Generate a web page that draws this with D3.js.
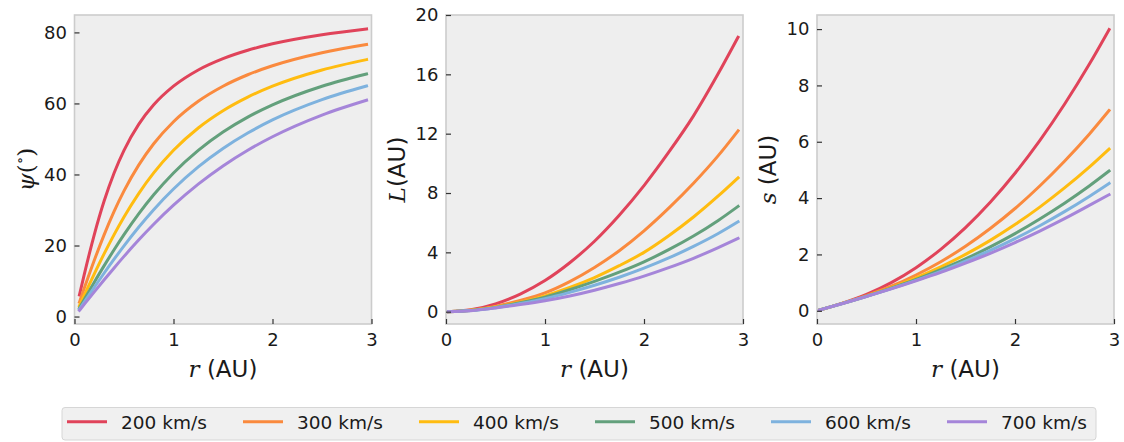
<!DOCTYPE html>
<html>
<head>
<meta charset="utf-8">
<script src="https://cdn.jsdelivr.net/npm/d3@7"></script>
<style>
  html, body { margin: 0; padding: 0; background: #ffffff; }
  svg { display: block; }
  text { font-family: "DejaVu Sans", sans-serif; fill: #1a1a1a; }
  .math { font-family: "DejaVu Serif", "Liberation Serif", serif; font-style: italic; }
</style>
</head>
<body>
<svg id="chart" width="1124" height="442"></svg>
<script>
// Solar wind speeds and their line colours
const speeds = ["200 km/s", "300 km/s", "400 km/s", "500 km/s", "600 km/s", "700 km/s"];
const colors = ["#e0435a", "#fa8a3e", "#ffbc10", "#63a07c", "#7eb2de", "#a585d9"];

// Heliocentric distance samples (AU)
const rPsi  = [0.05, 0.1, 0.2, 0.3, 0.4, 0.5, 0.65, 0.8, 1.0, 1.25, 1.5, 1.75, 2.0, 2.5, 2.95];
const rDist = [0.02, 0.25, 0.5, 0.75, 1.0, 1.25, 1.5, 1.75, 2.0, 2.25, 2.5, 2.75, 2.95];

// Spiral angle psi (degrees) on rPsi
const psi200 = [6.08, 12.02, 23.07, 32.58, 40.43, 46.8, 54.16, 59.6, 64.85, 69.42, 72.62, 74.98, 76.79, 79.35, 80.96];
const psi300 = [4.06, 8.08, 15.85, 23.07, 29.6, 35.37, 42.7, 48.64, 54.84, 60.61, 64.85, 68.08, 70.6, 74.27, 76.57];
const psi400 = [3.05, 6.08, 12.02, 17.72, 23.07, 28.04, 34.69, 40.43, 46.8, 53.09, 57.95, 61.78, 64.85, 69.42, 72.33];
const psi500 = [2.44, 4.87, 9.67, 14.34, 18.82, 23.07, 28.98, 34.28, 40.43, 46.8, 51.96, 56.15, 59.6, 64.85, 68.3];
const psi600 = [2.07, 4.14, 8.24, 12.26, 16.15, 19.92, 25.22, 30.1, 35.9, 42.12, 47.32, 51.67, 55.35, 61.06, 64.9];
const psi700 = [1.74, 3.49, 6.94, 10.35, 13.69, 16.94, 21.6, 25.98, 31.34, 37.28, 42.41, 46.83, 50.62, 56.72, 60.9];

// L (AU) on rDist
const L200 = [0.001, 0.13, 0.53, 1.19, 2.1, 3.3, 4.75, 6.5, 8.5, 10.75, 13.2, 16.05, 18.5];
const L300 = [0.001, 0.1, 0.36, 0.76, 1.27, 2.03, 2.98, 4.11, 5.45, 6.98, 8.66, 10.52, 12.19];
const L400 = [0.001, 0.09, 0.31, 0.64, 1.07, 1.63, 2.3, 3.1, 4.0, 5.12, 6.38, 7.8, 9.02];
const L500 = [0.001, 0.08, 0.29, 0.6, 0.98, 1.48, 2.04, 2.66, 3.36, 4.18, 5.1, 6.15, 7.1];
const L600 = [0.001, 0.075, 0.27, 0.55, 0.88, 1.3, 1.78, 2.32, 2.93, 3.62, 4.4, 5.27, 6.06];
const L700 = [0.001, 0.07, 0.25, 0.48, 0.74, 1.06, 1.45, 1.9, 2.4, 2.97, 3.6, 4.32, 4.94];

// Path length s (AU) on rDist
const s200 = [0.02, 0.26, 0.58, 1.0, 1.53, 2.18, 2.95, 3.85, 4.88, 6.04, 7.33, 8.75, 9.98];
const s300 = [0.02, 0.255, 0.54, 0.87, 1.27, 1.74, 2.29, 2.92, 3.63, 4.43, 5.31, 6.27, 7.11];
const s400 = [0.02, 0.253, 0.52, 0.82, 1.17, 1.56, 2.0, 2.5, 3.06, 3.68, 4.36, 5.1, 5.74];
const s500 = [0.02, 0.252, 0.515, 0.8, 1.11, 1.46, 1.84, 2.27, 2.74, 3.26, 3.82, 4.43, 4.96];
const s600 = [0.02, 0.251, 0.511, 0.785, 1.08, 1.4, 1.76, 2.14, 2.56, 3.02, 3.52, 4.06, 4.52];
const s700 = [0.02, 0.251, 0.508, 0.775, 1.06, 1.36, 1.69, 2.04, 2.42, 2.83, 3.27, 3.74, 4.12];

// Tick values
const xTicks   = [0, 1, 2, 3];
const psiTicks = [0, 20, 40, 60, 80];
const LTicks   = [0, 4, 8, 12, 16, 20];
const sTicks   = [0, 2, 4, 6, 8, 10];

const panels = [
  { left: 74.5, r: rPsi,  series: [psi200, psi300, psi400, psi500, psi600, psi700], yDomain: [-2.1, 84.9], yTicks: psiTicks, ylabel: "psi" },
  { left: 446,  r: rDist, series: [L200, L300, L400, L500, L600, L700],             yDomain: [-0.83, 20],  yTicks: LTicks,   ylabel: "L" },
  { left: 817,  r: rDist, series: [s200, s300, s400, s500, s600, s700],             yDomain: [-0.47, 10.5], yTicks: sTicks,  ylabel: "s" }
];

const plotTop = 15, plotBottom = 324, plotW = 297;
const svg = d3.select("#chart");

panels.forEach(p => {
  const x = d3.scaleLinear().domain([0, 3]).range([p.left, p.left + plotW]);
  const y = d3.scaleLinear().domain(p.yDomain).range([plotBottom, plotTop]);
  const g = svg.append("g");

  // plot area
  g.append("rect")
    .attr("x", p.left).attr("y", plotTop)
    .attr("width", plotW).attr("height", plotBottom - plotTop)
    .attr("fill", "#eeeeee");

  const clipId = "clip-" + p.ylabel;
  svg.append("clipPath").attr("id", clipId).append("rect")
    .attr("x", p.left).attr("y", plotTop).attr("width", plotW).attr("height", plotBottom - plotTop);

  // curves
  const line = d3.line()
    .x(d => x(d[0])).y(d => y(d[1]))
    .curve(d3.curveMonotoneX);
  const lg = g.append("g").attr("clip-path", `url(#${clipId})`);
  p.series.forEach((vals, i) => {
    lg.append("path")
      .datum(p.r.map((rv, j) => [rv, vals[j]]))
      .attr("d", line)
      .attr("fill", "none")
      .attr("stroke", colors[i])
      .attr("stroke-width", 3)
      .attr("stroke-linecap", "square")
      .attr("stroke-linejoin", "round");
  });

  // frame
  g.append("rect")
    .attr("x", p.left).attr("y", plotTop)
    .attr("width", plotW).attr("height", plotBottom - plotTop)
    .attr("fill", "none").attr("stroke", "#cccccc").attr("stroke-width", 1.6);

  // axes with inward ticks
  const ax = g.append("g").attr("transform", `translate(0,${plotBottom})`)
    .call(d3.axisBottom(x).tickValues(xTicks).tickSize(-5).tickPadding(9).tickFormat(d3.format("d")));
  const ay = g.append("g").attr("transform", `translate(${p.left},0)`)
    .call(d3.axisLeft(y).tickValues(p.yTicks).tickSize(-5).tickPadding(7.5).tickFormat(d3.format("d")));
  [ax, ay].forEach(a => {
    a.select(".domain").remove();
    a.selectAll(".tick line").attr("stroke", "#333333").attr("stroke-width", 1.2);
    a.selectAll(".tick text")
      .style("font-family", "'DejaVu Sans', sans-serif")
      .style("font-size", "18px")
      .attr("fill", "#1a1a1a");
  });

  // x label: r (AU)
  const xl = g.append("text")
    .attr("x", p.left + plotW / 2).attr("y", 377)
    .attr("text-anchor", "middle")
    .style("font-size", "23px");
  xl.append("tspan").attr("class", "math").text("r");
  xl.append("tspan").text(" (AU)");

  // y label
  const yl = g.append("text")
    .attr("transform", `translate(${p.left - 41},${(plotTop + plotBottom) / 2}) rotate(-90)`)
    .attr("text-anchor", "middle")
    .style("font-size", "23px");
  if (p.ylabel === "psi") {
    yl.append("tspan").attr("class", "math").text("ψ");
    yl.append("tspan").style("font-family", "'DejaVu Serif', serif").text("(");
    yl.append("tspan").style("font-family", "'DejaVu Serif', serif").style("font-size", "15px")
      .attr("dy", "-0.55em").text("∘");
    yl.append("tspan").style("font-family", "'DejaVu Serif', serif").attr("dy", "0.38em").text(")");
  } else if (p.ylabel === "L") {
    yl.append("tspan").attr("class", "math").text("L");
    yl.append("tspan").text("(AU)");
  } else {
    yl.append("tspan").attr("class", "math").text("s");
    yl.append("tspan").text(" (AU)");
  }
});

// legend
const leg = svg.append("g");
leg.append("rect")
  .attr("x", 62).attr("y", 407.5).attr("width", 1034).attr("height", 32.5)
  .attr("rx", 3).attr("fill", "#f0f0f0").attr("stroke", "#d6d6d6").attr("stroke-width", 1);
speeds.forEach((label, i) => {
  const x0 = 67 + i * 176;
  leg.append("line")
    .attr("x1", x0).attr("x2", x0 + 40)
    .attr("y1", 421.7).attr("y2", 421.7)
    .attr("stroke", colors[i]).attr("stroke-width", 3);
  leg.append("text")
    .attr("x", x0 + 54).attr("y", 429.2)
    .style("font-size", "18.5px")
    .text(label);
});
</script>
</body>
</html>
